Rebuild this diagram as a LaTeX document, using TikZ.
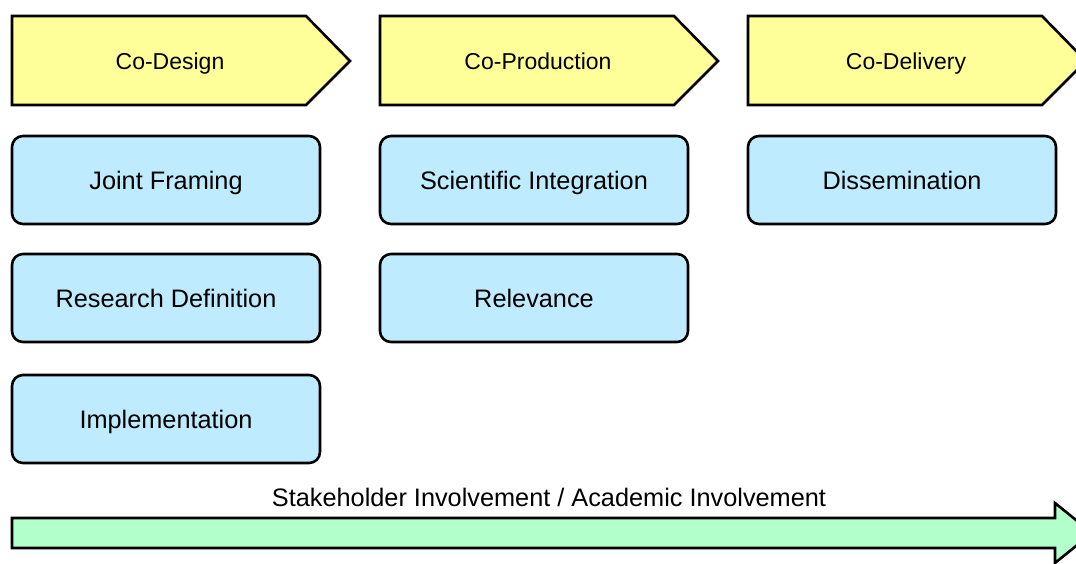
\documentclass[tikz,border=0pt]{standalone}
\usepackage{fontspec}
\setmainfont{Liberation Sans}
\definecolor{chevyellow}{RGB}{255,255,153}
\definecolor{boxblue}{RGB}{191,235,255}
\definecolor{arrgreen}{RGB}{179,255,204}
\begin{document}
\begin{tikzpicture}[x=1pt,y=-1pt,
  chev/.style={draw=black,fill=chevyellow,line width=2.6pt,line join=miter},
  box/.style={draw=black,fill=boxblue,line width=2.6pt,rounded corners=11pt,
    minimum width=308pt,minimum height=88pt},
  arr/.style={draw=black,fill=arrgreen,line width=2.6pt,line join=miter},
  lbl/.style={inner sep=0pt,font=\fontsize{25.3}{30}\selectfont,text height=18.2pt,text depth=0pt},
  clbl/.style={inner sep=0pt,font=\fontsize{23}{28}\selectfont,text height=16.5pt,text depth=0pt}]
\useasboundingbox (0,0) rectangle (1076,563);
\foreach \x/\t/\n in {12/Co-Design/cd,380/Co-Production/cp,748/Co-Delivery/cdl}{
  \path[chev] (\x,16) -- (\x+294,16) -- (\x+338,61) -- (\x+294,105) -- (\x,105) -- cycle;
  \node[clbl] (\n) at (\x+158,61) {\t};
}
\node[box,lbl] (jf) at (166,180) {Joint Framing};
\node[box,lbl] (rd) at (166,298) {Research Definition};
\node[box,lbl] (im) at (166,419) {Implementation};
\node[box,lbl] (si) at (534,180) {Scientific Integration};
\node[box,lbl] (re) at (534,298) {Relevance};
\node[box,lbl] (di) at (902,180) {Dissemination};
\path[arr] (12,518) -- (1055,518) -- (1055,503) -- (1092,533) -- (1055,563) -- (1055,548) -- (12,548) -- cycle;
\node[lbl] (inv) at (549,497) {Stakeholder Involvement / Academic Involvement};
\end{tikzpicture}
\end{document}
